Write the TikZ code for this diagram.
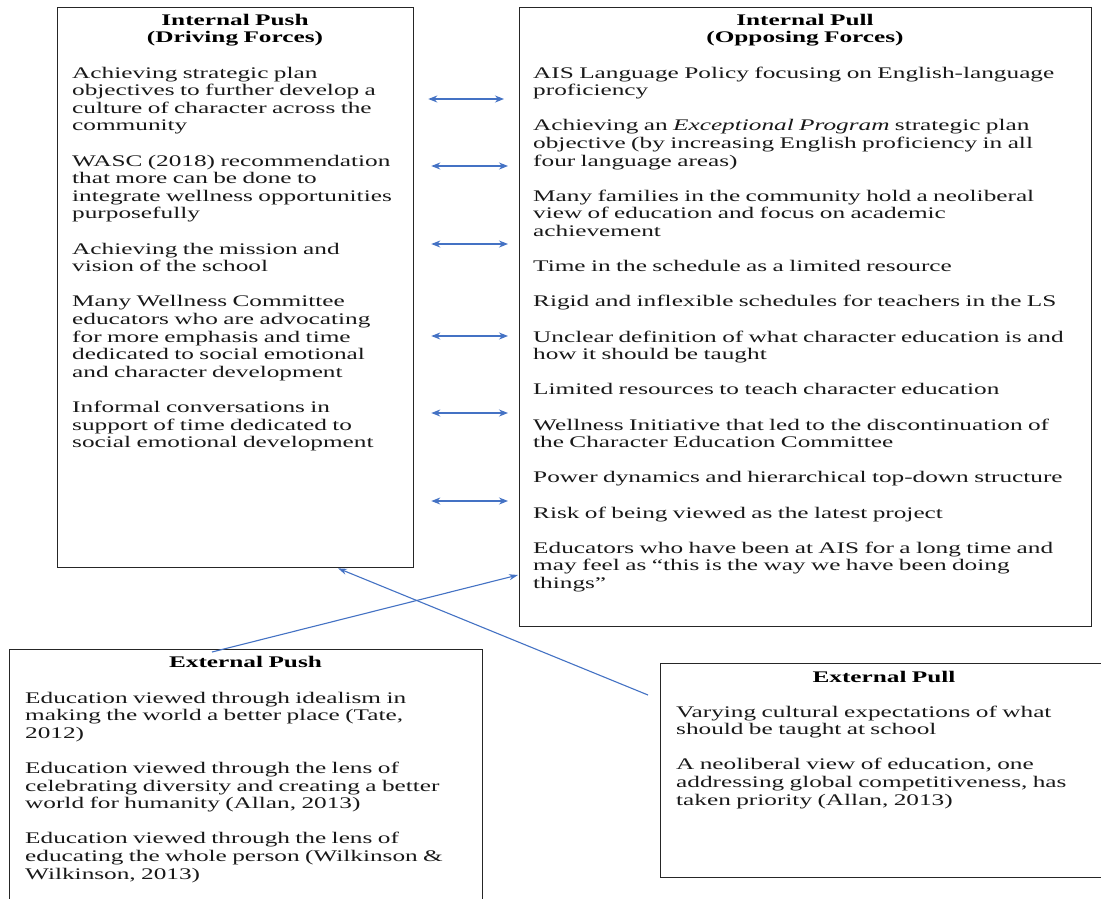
\documentclass[tikz,border=0pt]{standalone}
\usepackage{fontspec}
\setmainfont{Liberation Serif}[FakeStretch=1.56]
\usetikzlibrary{arrows.meta}
\definecolor{linkblue}{HTML}{4472C4}
\tikzset{
  frame/.style={draw=black!85, line width=1.3pt, inner sep=0pt, anchor=north west},
  boxtitle/.style={font=\fontsize{16.2}{17.6}\selectfont\bfseries, align=center, anchor=base, inner sep=0pt, text width=320pt},
  body/.style={font=\fontsize{16.2}{17.6}\selectfont, text=black!90, align=left, anchor=base west, inner sep=0pt, text width=#1},
  dblarrow/.style={draw=linkblue, line width=1.2pt, {Stealth[length=9pt,width=7pt]}-{Stealth[length=9pt,width=7pt]}},
  onearrow/.style={draw=linkblue, line width=1.1pt, -{Stealth[length=9pt,width=6pt]}},
}
\newcommand{\pgap}{\\[17.6pt]}
\begin{document}
\begin{tikzpicture}[x=1pt,y=-1pt]
\useasboundingbox (0,0) rectangle (1101,898);
\fill[white] (0,0) rectangle (1101,898);

% frames
\node[frame, minimum width=356pt, minimum height=560pt] (ipush) at (57,7) {};
\node[frame, minimum width=572pt, minimum height=619pt] (ipull) at (519,7) {};
\node[frame, minimum width=473pt, minimum height=262pt] (epush) at (9,649) {};
\node[frame, minimum width=450pt, minimum height=214pt] (epull) at (660,663) {};

% titles
\node[boxtitle] (ipushtitle) at (235,25) {Internal Push\\(Driving Forces)};
\node[boxtitle] (ipulltitle) at (805,25) {Internal Pull\\(Opposing Forces)};
\node[boxtitle] (epushtitle) at (245.5,667) {External Push};
\node[boxtitle] (epulltitle) at (884,682) {External Pull};

% texts
\node[body=340pt] (ipushtext) at (72,78) {Achieving strategic plan\\
objectives to further develop a\\
culture of character across the\\
community\pgap
WASC (2018) recommendation\\
that more can be done to\\
integrate wellness opportunities\\
purposefully\pgap
Achieving the mission and\\
vision of the school\pgap
Many Wellness Committee\\
educators who are advocating\\
for more emphasis and time\\
dedicated to social emotional\\
and character development\pgap
Informal conversations in\\
support of time dedicated to\\
social emotional development};

\node[body=555pt] (ipulltext) at (533,78) {AIS Language Policy focusing on English-language\\
proficiency\pgap
Achieving an \textit{Exceptional Program} strategic plan\\
objective (by increasing English proficiency in all\\
four language areas)\pgap
Many families in the community hold a neoliberal\\
view of education and focus on academic\\
achievement\pgap
Time in the schedule as a limited resource\pgap
Rigid and inflexible schedules for teachers in the LS\pgap
Unclear definition of what character education is and\\
how it should be taught\pgap
Limited resources to teach character education\pgap
Wellness Initiative that led to the discontinuation of\\
the Character Education Committee\pgap
Power dynamics and hierarchical top-down structure\pgap
Risk of being viewed as the latest project\pgap
Educators who have been at AIS for a long time and\\
may feel as ``this is the way we have been doing\\
things''};

\node[body=455pt] (epushtext) at (25,703) {Education viewed through idealism in\\
making the world a better place (Tate,\\
2012)\pgap
Education viewed through the lens of\\
celebrating diversity and creating a better\\
world for humanity (Allan, 2013)\pgap
Education viewed through the lens of\\
educating the whole person (Wilkinson \&\\
Wilkinson, 2013)};

\node[body=420pt] (epulltext) at (676,717) {Varying cultural expectations of what\\
should be taught at school\pgap
A neoliberal view of education, one\\
addressing global competitiveness, has\\
taken priority (Allan, 2013)};

% double arrows between internal forces
\foreach \yy/\sa/\sb in {99/14/15, 166/17/11, 244/17/11, 336/17/11, 413/17/11, 501/17/11}{
  \draw[dblarrow, shorten <=\sa pt, shorten >=\sb pt] (ipush.east |- 0,\yy) -- (ipull.west |- 0,\yy);
}

% crossing arrows from external forces
\coordinate (pushstart) at (212,652);
\coordinate (pullstart) at (648,695);
\draw[onearrow] (pushstart) -- ([xshift=-1pt]ipull.west |- 0,575);
\draw[onearrow] (pullstart) -- (ipush.south -| 338,0);
\end{tikzpicture}
\end{document}
